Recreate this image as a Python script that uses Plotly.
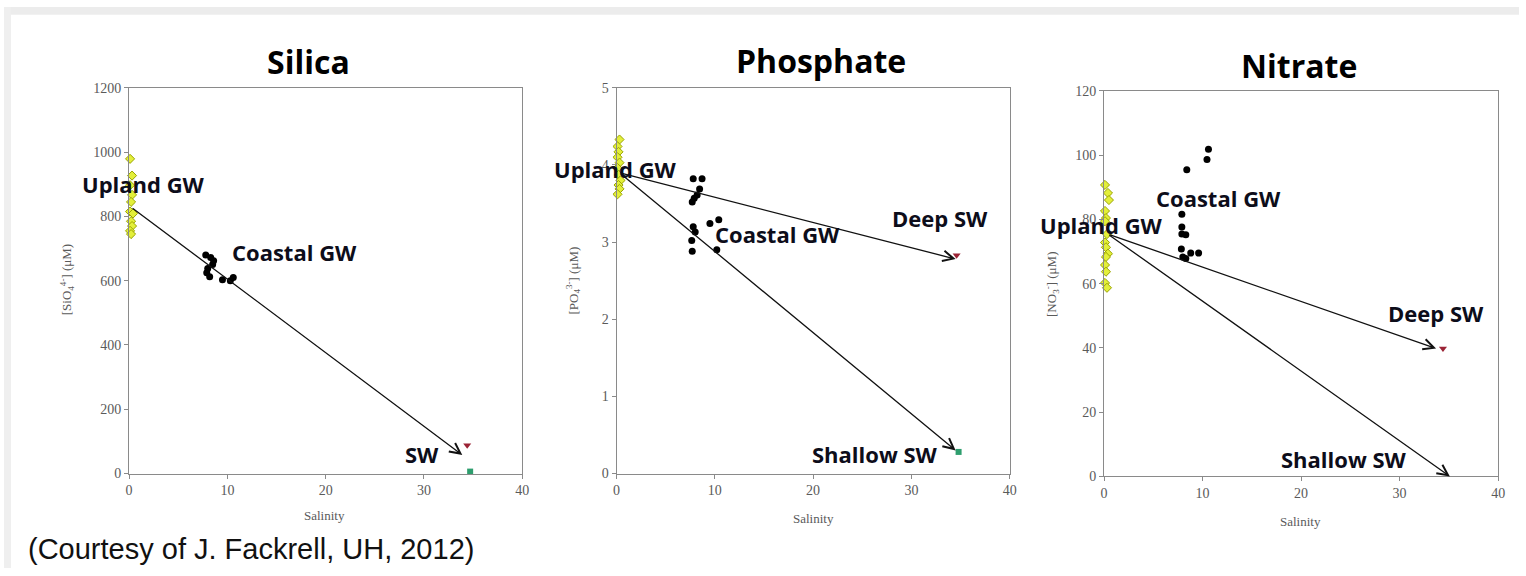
import plotly.graph_objects as go

W, H = 1526, 576

# ---------------- data ----------------
silica_upland_sal = [0.1, 0.3, 0.1, 0.3, 0.2, 0.1, 0.4, 0.2, 0.3, 0.1, 0.2]
silica_upland_conc = [979, 927, 897, 867, 845, 815, 809, 785, 770, 755, 745]
silica_coastal_sal = [7.8, 8.3, 8.6, 8.5, 8.0, 7.9, 8.2, 9.5, 10.3, 10.6]
silica_coastal_conc = [680, 672, 662, 650, 638, 625, 612, 603, 600, 610]
silica_deep_sw = [34.4, 88]
silica_shallow_sw = [34.7, 6]
silica_arrows = [[0.2, 829, 33.9, 58]]

phos_upland_sal = [0.3, 0.1, 0.2, 0.1, 0.3, 0.1, 0.2, 0.4, 0.2, 0.3, 0.1]
phos_upland_conc = [4.33, 4.24, 4.17, 4.10, 4.03, 3.96, 3.87, 3.80, 3.74, 3.69, 3.62]
phos_coastal_sal = [7.8, 8.7, 8.45, 8.2, 7.9, 7.7, 7.8, 8.0, 7.65, 7.7, 9.5, 10.4, 10.2]
phos_coastal_conc = [3.82, 3.82, 3.69, 3.61, 3.57, 3.52, 3.20, 3.13, 3.02, 2.88, 3.24, 3.29, 2.90]
phos_deep_sw = [34.6, 2.83]
phos_shallow_sw = [34.8, 0.28]
phos_arrows = [[0.3, 3.9, 34.5, 2.78], [0.3, 3.9, 34.5, 0.30]]

nit_upland_sal = [0.1, 0.4, 0.5, 0.1, 0.2, 0.1, 0.3, 0.1, 0.2, 0.4, 0.2, 0.1, 0.2, 0.1, 0.3]
nit_upland_conc = [90.7, 88.2, 86.0, 82.6, 80.4, 79.4, 75.4, 72.8, 71.3, 69.3, 68.3, 65.8, 63.7, 60.2, 58.7]
nit_coastal_sal = [10.6, 10.45, 8.4, 7.9, 7.9, 7.9, 8.3, 7.85, 8.8, 9.6, 8.0, 8.3]
nit_coastal_conc = [101.8, 98.6, 95.4, 81.6, 77.6, 75.4, 75.2, 70.8, 69.5, 69.5, 68.3, 67.8]
nit_deep_sw = [34.4, 39.8]
nit_arrows = [[0.4, 75.4, 33.7, 39.8], [0.4, 75.4, 35.1, 0.0]]

titles = ["Silica", "Phosphate", "Nitrate"]
y_titles = ["[SiO<sub>4</sub><sup>4-</sup>] (μM)", "[PO<sub>4</sub><sup>3-</sup>] (μM)", "[NO<sub>3</sub><sup>-</sup>] (μM)"]
x_title = "Salinity"
y_ranges = [[0, 1200], [0, 5], [0, 120]]
y_dticks = [200, 1, 20]
x_ticks = [0, 10, 20, 30, 40]

# ---------------- layout geometry (pixels) ----------------
panels = [
    dict(x0=126, x1=522, y0=83, y1=479),
    dict(x0=617, x1=1013, y0=83, y1=479),
    dict(x0=1108, x1=1505, y0=86, y1=482),
]
title_pos = [(307, 56), (823, 55), (1304, 60)]
ytitle_pos = [(63, 280), (573, 281), (1055, 285)]
xtitle_pos = [(323, 522), (815, 525), (1306, 528)]
labels = [
    ("Upland GW", 141, 182), ("Coastal GW", 293, 252), ("SW", 421, 459),
    ("Upland GW", 616, 166), ("Deep SW", 943, 217), ("Coastal GW", 779, 233), ("Shallow SW", 877, 459),
    ("Coastal GW", 1223, 196), ("Upland GW", 1105, 224), ("Deep SW", 1442, 314), ("Shallow SW", 1350, 464),
]


def px(x):
    return x / W


def py(y):
    return 1 - y / H


YELLOW = dict(symbol="diamond", size=7, color="#e3ef3a", line=dict(color="#9aa400", width=1))
BLACK = dict(symbol="circle", size=7, color="#000000")
RED = dict(symbol="triangle-down", size=7, color="#9b2335")
GREEN = dict(symbol="square", size=6, color="#2e9e6e")

fig = go.Figure()

panel_data = [
    (silica_upland_sal, silica_upland_conc, silica_coastal_sal, silica_coastal_conc,
     silica_deep_sw, silica_shallow_sw, silica_arrows),
    (phos_upland_sal, phos_upland_conc, phos_coastal_sal, phos_coastal_conc,
     phos_deep_sw, phos_shallow_sw, phos_arrows),
    (nit_upland_sal, nit_upland_conc, nit_coastal_sal, nit_coastal_conc,
     nit_deep_sw, None, nit_arrows),
]

annotations = []
for i, (us, uc, cs, cc, deep, shallow, arrows) in enumerate(panel_data):
    xa = "x" if i == 0 else f"x{i+1}"
    ya = "y" if i == 0 else f"y{i+1}"
    fig.add_trace(go.Scatter(x=us, y=uc, mode="markers", marker=YELLOW, xaxis=xa, yaxis=ya,
                             cliponaxis=False, showlegend=False))
    fig.add_trace(go.Scatter(x=cs, y=cc, mode="markers", marker=BLACK, xaxis=xa, yaxis=ya,
                             cliponaxis=False, showlegend=False))
    fig.add_trace(go.Scatter(x=[deep[0]], y=[deep[1]], mode="markers", marker=RED, xaxis=xa, yaxis=ya,
                             cliponaxis=False, showlegend=False))
    if shallow is not None:
        fig.add_trace(go.Scatter(x=[shallow[0]], y=[shallow[1]], mode="markers", marker=GREEN,
                                 xaxis=xa, yaxis=ya, cliponaxis=False, showlegend=False))
    for (x0, y0, x1, y1) in arrows:
        annotations.append(dict(x=x1, y=y1, ax=x0, ay=y0, xref=xa, yref=ya, axref=xa, ayref=ya,
                                showarrow=True, arrowhead=5, arrowsize=1.6, arrowwidth=1.3,
                                arrowcolor="#111111", text=""))

    p = panels[i]
    axis_common = dict(showline=True, mirror=True, linecolor="#8a8a8a", linewidth=1,
                       ticks="outside", ticklen=4, tickcolor="#8a8a8a", showgrid=False,
                       zeroline=False,
                       tickfont=dict(family="Liberation Serif", size=14, color="#5a5a5a"))
    xkey = "xaxis" if i == 0 else f"xaxis{i+1}"
    ykey = "yaxis" if i == 0 else f"yaxis{i+1}"
    fig.update_layout({
        xkey: dict(domain=[px(p["x0"]), px(p["x1"])], range=[0, 40], tickvals=x_ticks,
                   anchor=ya, **axis_common),
        ykey: dict(domain=[py(p["y1"]), py(p["y0"])], range=y_ranges[i], dtick=y_dticks[i],
                   anchor=xa, **axis_common),
    })

    tx, ty = title_pos[i]
    annotations.append(dict(text=titles[i], x=px(tx), y=py(ty), xref="paper", yref="paper",
                            showarrow=False, xanchor="center", yanchor="middle",
                            font=dict(family="Open Sans", size=32, color="#000000", weight="bold")))
    yx, yy = ytitle_pos[i]
    annotations.append(dict(text=y_titles[i], x=px(yx), y=py(yy), xref="paper", yref="paper",
                            showarrow=False, xanchor="center", yanchor="middle", textangle=-90,
                            font=dict(family="Liberation Serif", size=13, color="#5a5a5a")))
    xx, xy = xtitle_pos[i]
    annotations.append(dict(text=x_title, x=px(xx), y=py(xy), xref="paper", yref="paper",
                            showarrow=False, xanchor="center", yanchor="middle",
                            font=dict(family="Liberation Serif", size=13, color="#5a5a5a")))

for (t, lx, ly) in labels:
    annotations.append(dict(text=t, x=px(lx), y=py(ly), xref="paper", yref="paper",
                            showarrow=False, xanchor="center", yanchor="middle",
                            font=dict(family="Open Sans", size=22, color="#0d0d1a", weight="bold")))

annotations.append(dict(text="(Courtesy of J. Fackrell, UH, 2012)", x=px(22), y=py(557),
                        xref="paper", yref="paper", showarrow=False, xanchor="left", yanchor="middle",
                        font=dict(family="Liberation Sans", size=29, color="#111111")))

frame = [
    dict(type="rect", xref="paper", yref="paper", x0=0, x1=1, y0=py(8), y1=1,
         fillcolor="#ececec", line=dict(width=0), layer="below"),
    dict(type="rect", xref="paper", yref="paper", x0=0, x1=px(7), y0=0, y1=1,
         fillcolor="#efefef", line=dict(width=0), layer="below"),
]

fig.update_layout(
    width=W, height=H,
    margin=dict(l=0, r=0, t=0, b=0),
    paper_bgcolor="#ffffff",
    plot_bgcolor="#ffffff",
    showlegend=False,
    annotations=annotations,
    shapes=frame,
)

fig.write_html("out.html")
